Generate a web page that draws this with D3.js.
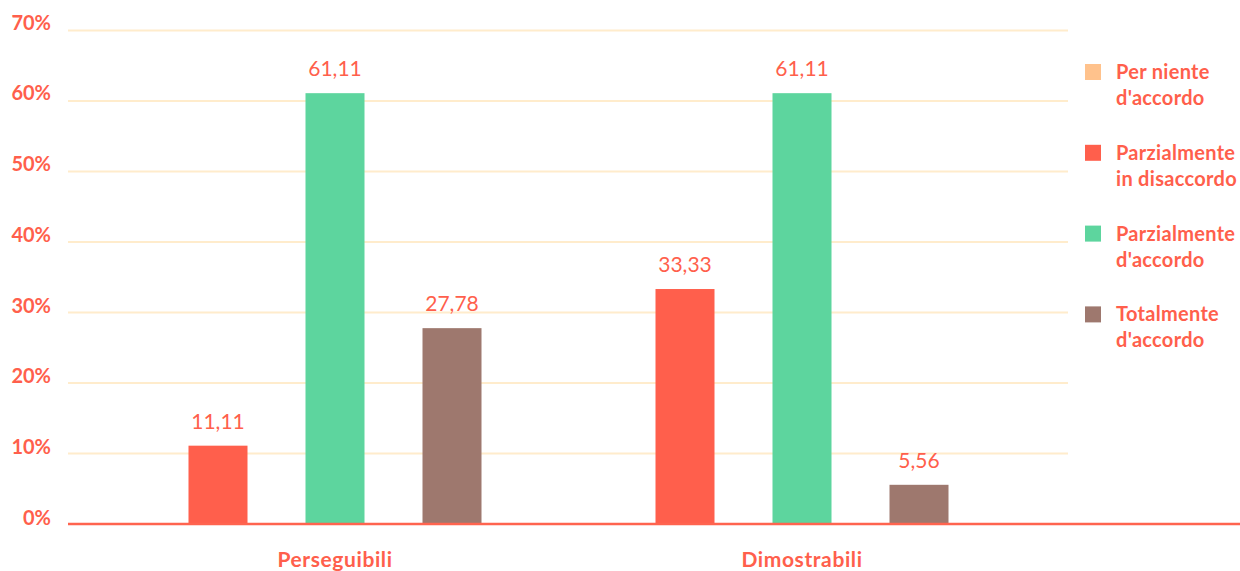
<!DOCTYPE html>
<html><head><meta charset="utf-8">
<script src="https://cdn.jsdelivr.net/npm/d3@7"></script>
<style>
html,body{margin:0;padding:0;background:#fff;}
svg{display:block;font-family:"Source Sans Pro","Lato","Noto Sans",sans-serif;}
</style></head>
<body><svg id="c" width="1240" height="571"></svg>
<script>
const categories = ["Perseguibili", "Dimostrabili"];
const series = ["Per niente d'accordo", "Parzialmente in disaccordo", "Parzialmente d'accordo", "Totalmente d'accordo"];
const legendLines = [["Per niente", "d'accordo"], ["Parzialmente", "in disaccordo"], ["Parzialmente", "d'accordo"], ["Totalmente", "d'accordo"]];
const colors = ["#ffc28c", "#ff5f4c", "#5dd59e", "#9e786e"];
const valuesPerseguibili = [0, 11.11, 61.11, 27.78];
const valuesDimostrabili = [0, 33.33, 61.11, 5.56];
const yTicks = [0, 10, 20, 30, 40, 50, 60, 70];

const values = [valuesPerseguibili, valuesDimostrabili];
const textColor = "#ff5f4c";
const svg = d3.select("#c");

const y = d3.scaleLinear().domain([0, 70]).range([524, 30.5]);
const x0 = d3.scaleBand().domain(categories).range([101.5, 1035.5]);
const x1 = d3.scalePoint().domain(series).range([-234, 117]);
const barW = 59;

// gridlines
svg.append("g").selectAll("line").data(yTicks.filter(d => d > 0)).join("line")
  .attr("x1", 68).attr("x2", 1068)
  .attr("y1", d => y(d)).attr("y2", d => y(d))
  .attr("stroke", "#ffeccc").attr("stroke-width", 2);

// y labels
svg.append("g").selectAll("text").data(yTicks).join("text")
  .attr("x", 51).attr("y", d => y(d) + 1 - d / 35)
  .attr("text-anchor", "end")
  .attr("font-size", 20).attr("font-weight", "bold").attr("fill", textColor)
  .text(d => d + "%");

// bars
const groups = svg.append("g").selectAll("g").data(categories).join("g")
  .attr("transform", d => `translate(${x0(d) + x0.bandwidth() / 2},0)`);

groups.each(function(cat, ci) {
  const g = d3.select(this);
  const data = series.map((s, i) => ({s, v: values[ci][i], c: colors[i]})).filter(d => d.v > 0);
  g.selectAll("rect").data(data).join("rect")
    .attr("x", d => x1(d.s) - barW / 2).attr("width", barW)
    .attr("y", d => y(d.v)).attr("height", d => y(0) - y(d.v))
    .attr("fill", d => d.c);
  g.selectAll("text.v").data(data).join("text").attr("class", "v")
    .attr("x", d => x1(d.s)).attr("y", d => y(d.v) - 17)
    .attr("text-anchor", "middle").attr("font-size", 21).attr("fill", textColor)
    .text(d => d3.format(".2f")(d.v).replace(".", ","));
  g.append("text").attr("x", 0).attr("y", 567)
    .attr("text-anchor", "middle").attr("font-size", 21).attr("font-weight", "bold")
    .attr("letter-spacing", 0.6).attr("fill", textColor)
    .text(cat);
});

// baseline
svg.append("line").attr("x1", 68).attr("x2", 1240).attr("y1", y(0)).attr("y2", y(0))
  .attr("stroke", "#ff644f").attr("stroke-width", 2.5);

// legend
const lg = svg.append("g").selectAll("g").data(series).join("g")
  .attr("transform", (d, i) => `translate(1085,${64 + i * 80.8})`);
lg.append("rect").attr("width", 16).attr("height", 16).attr("fill", (d, i) => colors[i]);
lg.each(function(d, i) {
  const t = d3.select(this).append("text").attr("x", 31).attr("y", 15)
    .attr("font-size", 20).attr("font-weight", "bold").attr("letter-spacing", 0.3).attr("fill", textColor);
  legendLines[i].forEach((l, j) => t.append("tspan").attr("x", 31).attr("dy", j === 0 ? 0 : 26).text(l));
});
</script></body></html>
